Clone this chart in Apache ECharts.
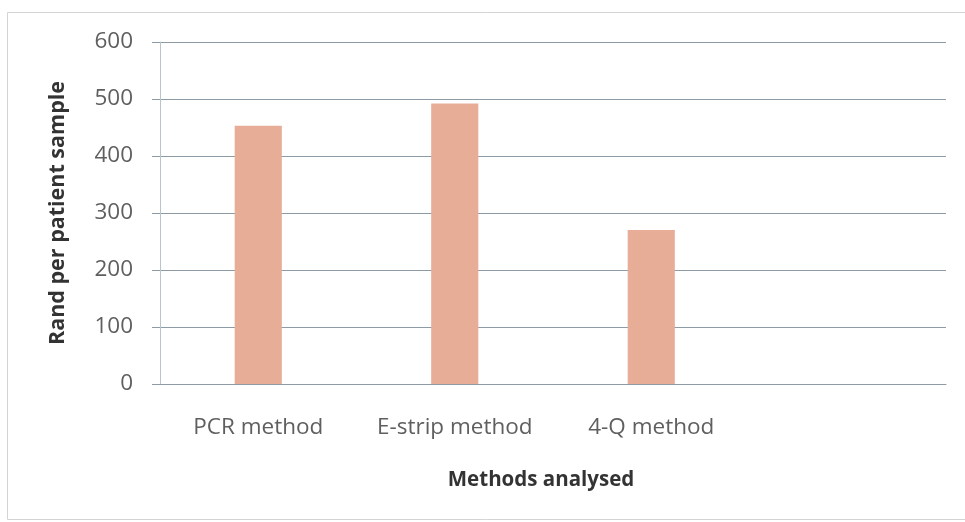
<!DOCTYPE html>
<html>
<head>
<meta charset="utf-8">
<script src="https://cdn.jsdelivr.net/npm/echarts@6/dist/echarts.min.js"></script>
<style>
  html, body { margin: 0; padding: 0; background: #ffffff; }
  #chart { width: 965px; height: 522px; }
</style>
</head>
<body>
<div id="chart"></div>
<script>
// Cost per patient sample for each diagnostic method (in Rand)
const methods = ['PCR method', 'E-strip method', '4-Q method', ''];
const costPerSample = [453, 492, 270, null];
const yTicks = { min: 0, max: 600, step: 100 };

const chart = echarts.init(document.getElementById('chart'), null, { renderer: 'canvas' });

const font = '"Open Sans", "DejaVu Sans", sans-serif';

chart.setOption({
  backgroundColor: '#ffffff',
  animation: false,
  graphic: [{
    type: 'rect',
    shape: { x: 7.5, y: 12.5, width: 980, height: 507 },
    style: { fill: 'none', stroke: '#d4d4d4', lineWidth: 1 },
    silent: true
  }],
  grid: { left: 160, right: 19, top: 42, bottom: 138 },
  xAxis: {
    type: 'category',
    data: methods,
    name: 'Methods analysed',
    nameLocation: 'middle',
    nameGap: 86,
    nameTextStyle: {
      fontFamily: font, fontSize: 20.5, fontWeight: 'bold', color: '#333333',
      padding: [0, 24, 0, 0]
    },
    axisLine: { show: true, lineStyle: { color: '#8c9ba5', width: 1 } },
    axisTick: { show: false },
    axisLabel: {
      fontFamily: font, fontSize: 22.5, color: '#5f5f5f', margin: 32, interval: 0
    }
  },
  yAxis: {
    type: 'value',
    min: yTicks.min,
    max: yTicks.max,
    interval: yTicks.step,
    name: 'Rand per patient sample',
    nameLocation: 'middle',
    nameGap: 91,
    nameTextStyle: {
      fontFamily: font, fontSize: 21.5, fontWeight: 'bold', color: '#333333'
    },
    axisLine: { show: true, lineStyle: { color: '#b9c3ca', width: 1 } },
    axisTick: { show: true, length: 8, inside: false, lineStyle: { color: '#8c9ba5' } },
    axisLabel: {
      fontFamily: font, fontSize: 22.5, color: '#5f5f5f', margin: 27
    },
    splitLine: { show: true, lineStyle: { color: '#8c9ba5', width: 1 } }
  },
  series: [{
    type: 'bar',
    data: costPerSample,
    barWidth: '24%',
    itemStyle: { color: '#e7ad97' }
  }]
});
</script>
</body>
</html>
